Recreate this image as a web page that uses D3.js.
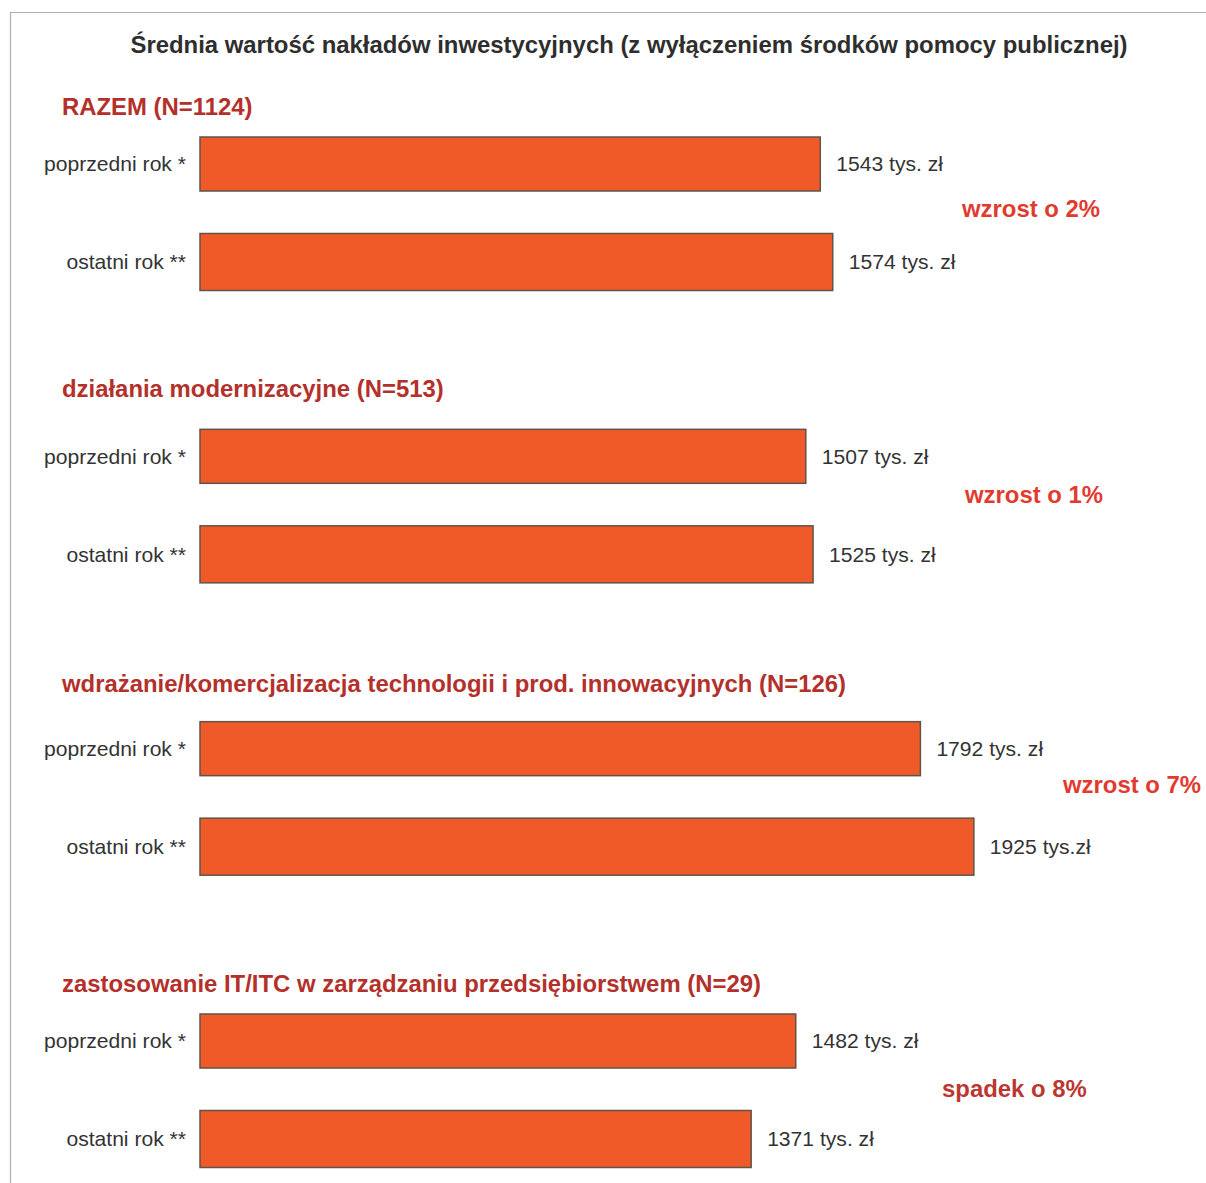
<!DOCTYPE html>
<html>
<head>
<meta charset="utf-8">
<script src="https://cdn.jsdelivr.net/npm/d3@7"></script>
<style>
  html, body { margin: 0; padding: 0; background: #fff; }
  svg { display: block; }
  text { font-family: "Liberation Sans", Arial, Helvetica, sans-serif; }
</style>
</head>
<body>
<div id="chart"></div>
<script>
// ---- data ----
const title = "Średnia wartość nakładów inwestycyjnych (z wyłączeniem środków pomocy publicznej)";
const groups = [
  "RAZEM (N=1124)",
  "działania modernizacyjne (N=513)",
  "wdrażanie/komercjalizacja technologii i prod. innowacyjnych (N=126)",
  "zastosowanie IT/ITC w zarządzaniu przedsiębiorstwem (N=29)"
];
const seriesNames = ["poprzedni rok *", "ostatni rok **"];
const previousYear = [1543, 1507, 1792, 1482];
const lastYear = [1574, 1525, 1925, 1371];
const valueLabels = [
  ["1543 tys. zł", "1574 tys. zł"],
  ["1507 tys. zł", "1525 tys. zł"],
  ["1792 tys. zł", "1925 tys.zł"],
  ["1482 tys. zł", "1371 tys. zł"]
];
const changeLabels = ["wzrost o 2%", "wzrost o 1%", "wzrost o 7%", "spadek o 8%"];

// ---- layout (not data) ----
const W = 1206, H = 1183;
const headingDy = [-22, -32, -30, -22];
const changeLayout = [{x: 962, dy: 72}, {x: 965, dy: 65}, {x: 1063, dy: 63}, {x: 942, dy: 75}];
const barOffsets = [0, 96.5];
const barHeights = [54, 57];

const svg = d3.select("#chart").append("svg")
  .attr("width", W).attr("height", H);

// frame lines
svg.append("line").attr("x1", 10).attr("x2", W).attr("y1", 12.5).attr("y2", 12.5)
  .attr("stroke", "#b0b0b0").attr("stroke-width", 1.2);
svg.append("line").attr("x1", 10.5).attr("x2", 10.5).attr("y1", 12).attr("y2", H)
  .attr("stroke", "#b0b0b0").attr("stroke-width", 1.2);

// title
svg.append("text")
  .attr("x", 629).attr("y", 53)
  .attr("text-anchor", "middle")
  .attr("font-size", 23.9).attr("font-weight", "bold")
  .attr("fill", "#2e2e2e")
  .text(title);

const x = d3.scaleLinear().domain([0, 2000]).range([200, 1004]);
const gy = d3.scaleLinear().domain([0, groups.length - 1]).range([137, 1014]);

const g = svg.selectAll("g.group").data(groups).join("g")
  .attr("class", "group")
  .attr("transform", (d, i) => `translate(0,${gy(i)})`);

// headings
g.append("text")
  .attr("x", 62).attr("y", (d, i) => headingDy[i])
  .attr("font-size", 23.9).attr("font-weight", "bold")
  .attr("fill", "#b3302b")
  .text(d => d);

const rows = (d, i) => [
  {v: previousYear[i], lab: valueLabels[i][0], name: seriesNames[0], k: 0},
  {v: lastYear[i], lab: valueLabels[i][1], name: seriesNames[1], k: 1}
];

const r = g.selectAll("g.row").data(rows).join("g").attr("class", "row");

r.append("rect")
  .attr("x", x(0))
  .attr("y", d => barOffsets[d.k])
  .attr("width", d => x(d.v) - x(0))
  .attr("height", d => barHeights[d.k])
  .attr("fill", "#f05a28")
  .attr("stroke", "#5e544a")
  .attr("stroke-width", 1.5);

r.append("text")
  .attr("x", 186)
  .attr("y", d => barOffsets[d.k] + barHeights[d.k] / 2)
  .attr("dy", "0.35em")
  .attr("text-anchor", "end")
  .attr("font-size", 21.1)
  .attr("fill", "#333")
  .text(d => d.name);

r.append("text")
  .attr("x", d => x(d.v) + 16)
  .attr("y", d => barOffsets[d.k] + barHeights[d.k] / 2)
  .attr("dy", "0.35em")
  .attr("font-size", 21.1)
  .attr("fill", "#333")
  .text(d => d.lab);

// change labels
g.append("text")
  .attr("x", (d, i) => changeLayout[i].x)
  .attr("y", (d, i) => changeLayout[i].dy)
  .attr("dy", "0.35em")
  .attr("font-size", 23.9).attr("font-weight", "bold")
  .attr("fill", (d, i) => changeLabels[i].startsWith("spadek") ? "#bb3731" : "#e23a2e")
  .text((d, i) => changeLabels[i]);
</script>
</body>
</html>
